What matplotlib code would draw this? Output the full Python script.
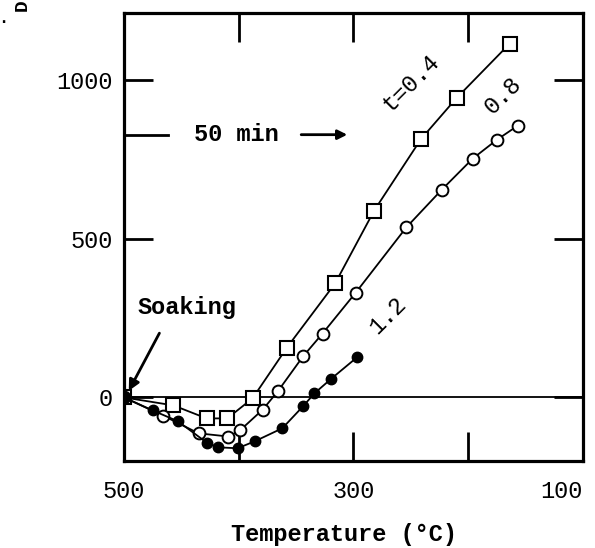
import numpy as np
import matplotlib
matplotlib.use("Agg")
import matplotlib.pyplot as plt

plt.rcParams['font.family'] = ['Liberation Mono', 'DejaVu Sans']

# t = 0.4 (open squares)
temp_04 = [500, 457, 428, 410, 388, 358, 316, 282, 241, 210, 164]
val_04 = [0, -25, -66, -66, -3, 157, 359, 588, 814, 943, 1113]

# t = 0.8 (open circles)
temp_08 = [500, 466, 435, 409, 399, 379, 366, 344, 327, 298, 254, 223, 196, 175, 157]
val_08 = [0, -57, -113, -123, -104, -38, 19, 129, 201, 330, 535, 654, 752, 811, 855]

# t = 1.2 (filled circles)
temp_12 = [500, 475, 453, 428, 418, 401, 386, 362, 344, 334, 320, 297]
val_12 = [0, -41, -75, -142, -157, -160, -138, -97, -28, 13, 57, 126]

xticks = [500, 400, 300, 200, 100]
xticklabels = ['500', '', '300', '', '100']
yticks = [0, 500, 1000]
yticklabels = ['0', '500', '1000']

fs = 17

fig = plt.figure(figsize=(5.95, 5.48), dpi=100)
ax = fig.add_axes([0.2084, 0.1588, 0.7714, 0.8175])

ax.axhline(0, color='black', lw=1.3, zorder=1)

ax.plot(temp_04, val_04, color='black', lw=1.3, marker='s', ms=10,
        mfc='white', mec='black', mew=1.5, zorder=3)
ax.plot(temp_08, val_08, color='black', lw=1.3, marker='o', ms=8.5,
        mfc='white', mec='black', mew=1.4, zorder=3)
ax.plot(temp_12, val_12, color='black', lw=1.3, marker='o', ms=7.5,
        mfc='black', mec='black', zorder=4)

ax.set_xlim(500, 100)
ax.set_ylim(-200, 1210)

ax.set_xticks(xticks)
ax.set_xticklabels(xticklabels)
ax.set_yticks(yticks)
ax.set_yticklabels(yticklabels)
ax.tick_params(direction='in', length=21, width=2, top=True, right=True,
               labelsize=fs)
ax.tick_params(axis='x', pad=14)
ax.tick_params(axis='y', pad=8)
ax.get_xticklabels()[-1].set_ha('right')
for s in ax.spines.values():
    s.set_linewidth(2.3)

ax.set_xlabel('Temperature (°C)', fontsize=fs, fontweight='bold')
ax.xaxis.set_label_coords(0.479, -0.138)

# labels of the curves
ax.text(250, 990, 't=0.4', fontsize=fs, rotation=45, ha='center', va='center')
ax.text(170, 950, '0.8', fontsize=fs, rotation=45, ha='center', va='center')
ax.text(270, 258, '1.2', fontsize=fs, rotation=45, ha='center', va='center')

# Soaking arrow
ax.text(445, 283, 'Soaking', fontsize=fs, fontweight='bold', ha='center', va='center')
ax.annotate('', xy=(497, 13), xytext=(468, 210),
            arrowprops=dict(arrowstyle='-|>', color='black', lw=2,
                            mutation_scale=16))

# 50 min
ax.text(402, 827, '50 min', fontsize=fs, fontweight='bold', ha='center', va='center')
ax.plot([500, 462], [827, 827], color='black', lw=2)
ax.annotate('', xy=(303, 827), xytext=(348, 827),
            arrowprops=dict(arrowstyle='-|>', color='black', lw=2,
                            mutation_scale=14))

fig.text(0.037, 0.99, 'D', fontsize=14, fontweight='bold', rotation=90,
         ha='center', va='center')
fig.text(0.006, 0.966, '.', fontsize=12, fontweight='bold',
         ha='center', va='center')

fig.savefig('out.png', dpi=100)
